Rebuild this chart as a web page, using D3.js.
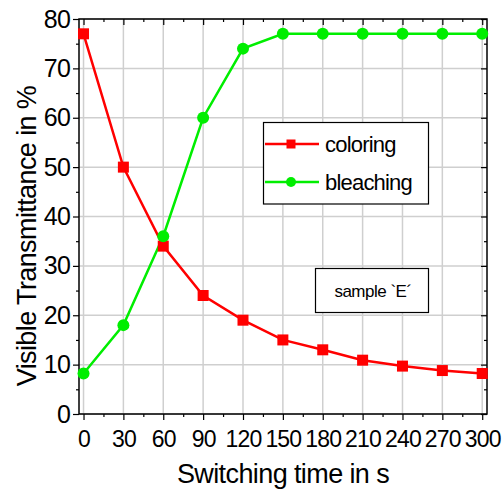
<!DOCTYPE html>
<html><head><meta charset="utf-8">
<script src="https://cdn.jsdelivr.net/npm/d3@7"></script>
<style>body{margin:0;background:#fff}svg{display:block}text{font-family:"Liberation Sans",Arial,sans-serif;fill:#000}</style>
</head><body><svg id="c" width="504" height="490"></svg>
<script>
const times = [0,30,60,90,120,150,180,210,240,270,300];
const coloring = [77,50,34,24,19,15,13,10.9,9.7,8.8,8.2];
const bleaching = [8.2,18,36,60,74,77,77,77,77,77,77];
const xTicks = [0,30,60,90,120,150,180,210,240,270,300];
const yTicks = [0,10,20,30,40,50,60,70,80];
const seriesNames = ["coloring","bleaching"];
const xTitle = "Switching time in s";
const yTitle = "Visible Transmittance in %";
const sampleLabel = "sample `E´";

const svg = d3.select("#c");
const L=79,R=487,T=19,B=414;
const x = d3.scaleLinear().domain([-3.4,303.6]).range([L,R]);
const y = d3.scaleLinear().domain([0,80]).range([B,T]);

// grid
const g = svg.append("g");
g.selectAll(".gx").data(xTicks).join("line").attr("x1",d=>x(d)).attr("x2",d=>x(d)).attr("y1",T).attr("y2",B).attr("stroke","#cfcfcf").attr("stroke-width",1.5);
g.selectAll(".gy").data(yTicks).join("line").attr("x1",L).attr("x2",R).attr("y1",d=>y(d)).attr("y2",d=>y(d)).attr("stroke","#cfcfcf").attr("stroke-width",1.5);

const xMinor = d3.range(15,300,30);
const yMinor = d3.range(5,80,10);
// bottom axis
const bx = d3.axisBottom(x).tickValues(xTicks).tickSize(6).tickSizeOuter(0);
const bax = svg.append("g").attr("transform",`translate(0,${B})`).call(bx);
bax.selectAll("text").attr("font-size",23).attr("dy",null).attr("y",33).style("letter-spacing","-0.8px");
svg.append("g").attr("transform",`translate(0,${B})`).call(d3.axisBottom(x).tickValues(xMinor).tickSize(3).tickFormat("").tickSizeOuter(0));
// top axis (inward)
svg.append("g").attr("transform",`translate(0,${T})`).call(d3.axisBottom(x).tickValues(xTicks).tickSize(6).tickFormat("").tickSizeOuter(0));
svg.append("g").attr("transform",`translate(0,${T})`).call(d3.axisBottom(x).tickValues(xMinor).tickSize(3).tickFormat("").tickSizeOuter(0));
// left axis
const lax = svg.append("g").attr("transform",`translate(${L},0)`).call(d3.axisLeft(y).tickValues(yTicks).tickSize(6).tickSizeOuter(0));
lax.selectAll("text").attr("font-size",25).attr("x",-9).style("letter-spacing","-0.8px");
svg.append("g").attr("transform",`translate(${L},0)`).call(d3.axisLeft(y).tickValues(yMinor).tickSize(3).tickFormat("").tickSizeOuter(0));
// right axis (inward)
svg.append("g").attr("transform",`translate(${R},0)`).call(d3.axisLeft(y).tickValues(yTicks).tickSize(6).tickFormat("").tickSizeOuter(0));
svg.append("g").attr("transform",`translate(${R},0)`).call(d3.axisLeft(y).tickValues(yMinor).tickSize(3).tickFormat("").tickSizeOuter(0));
svg.selectAll(".domain").remove();
svg.selectAll(".tick line").attr("stroke","#000").attr("stroke-width",1.2);
// frame
svg.append("rect").attr("x",L).attr("y",T).attr("width",R-L).attr("height",B-T).attr("fill","none").attr("stroke","#000").attr("stroke-width",1.5);

const line = d3.line().x((d,i)=>x(times[i])).y(d=>y(d));
svg.append("path").datum(coloring).attr("d",line).attr("fill","none").attr("stroke","#ff0000").attr("stroke-width",2.5);
svg.append("path").datum(bleaching).attr("d",line).attr("fill","none").attr("stroke","#00ee00").attr("stroke-width",2.5);
const S=11;
svg.selectAll(".sq").data(coloring).join("rect").attr("x",(d,i)=>x(times[i])-S/2).attr("y",d=>y(d)-S/2).attr("width",S).attr("height",S).attr("fill","#ff0000");
svg.selectAll(".ci").data(bleaching).join("circle").attr("cx",(d,i)=>x(times[i])).attr("cy",d=>y(d)).attr("r",6).attr("fill","#00ee00");

// legend
svg.append("rect").attr("x",263.5).attr("y",122.5).attr("width",165).attr("height",81.5).attr("fill","#fff").attr("stroke","#000").attr("stroke-width",1.2);
const legY=[144,182];
const colors=["#ff0000","#00ee00"];
seriesNames.forEach((n,i)=>{
  svg.append("line").attr("x1",265).attr("x2",319).attr("y1",legY[i]).attr("y2",legY[i]).attr("stroke",colors[i]).attr("stroke-width",2.5);
  if(i===0) svg.append("rect").attr("x",291-4.5).attr("y",legY[i]-4.5).attr("width",9).attr("height",9).attr("fill",colors[i]);
  else svg.append("circle").attr("cx",291).attr("cy",legY[i]).attr("r",5).attr("fill",colors[i]);
  svg.append("text").attr("x",325).attr("y",legY[i]+8).attr("font-size",22).style("letter-spacing","-0.8px").text(n);
});
// sample box
svg.append("rect").attr("x",315.5).attr("y",268.5).attr("width",113).attr("height",44).attr("fill","#fff").attr("stroke","#000").attr("stroke-width",1.2);
svg.append("text").attr("x",373).attr("y",297).attr("text-anchor","middle").attr("font-size",17).style("letter-spacing","-0.5px").text(sampleLabel);

// titles
svg.append("text").attr("x",283).attr("y",483).attr("text-anchor","middle").attr("font-size",27).style("letter-spacing","-0.6px").text(xTitle);
svg.append("text").attr("transform","translate(36,236) rotate(-90)").attr("text-anchor","middle").attr("font-size",27).style("letter-spacing","-0.6px").text(yTitle);
</script></body></html>
